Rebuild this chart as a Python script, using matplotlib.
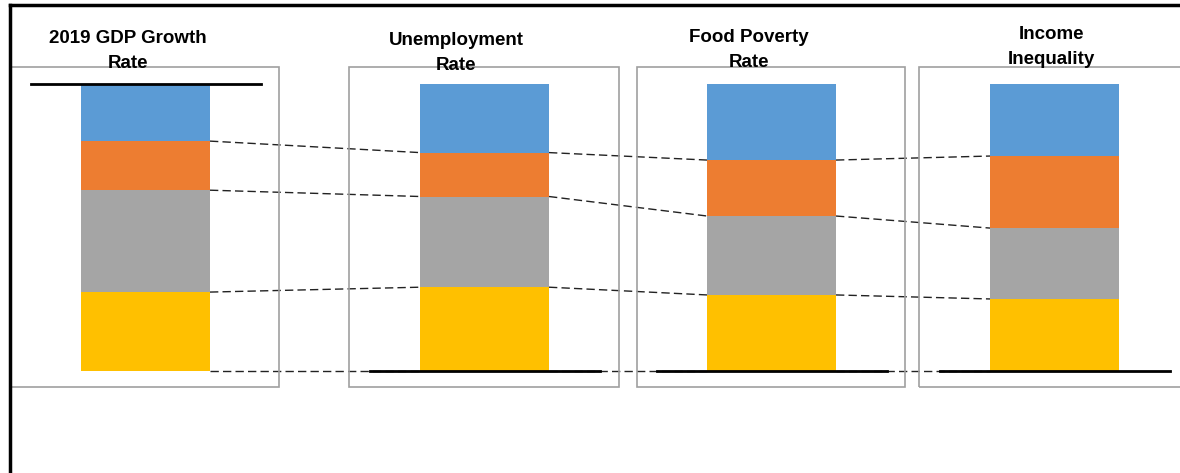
import numpy as np
import matplotlib.pyplot as plt
from matplotlib.patches import Rectangle
from matplotlib.lines import Line2D

# share of each segment (%), bottom to top
titles = ['2019 GDP Growth\nRate', 'Unemployment\nRate', 'Food Poverty\nRate', 'Income\nInequality']
yellow = [27.5, 29.2, 26.5, 25.1]
gray = [35.5, 31.6, 27.5, 24.7]
orange = [17.1, 15.3, 19.5, 25.1]
blue = [19.9, 23.9, 26.5, 25.1]

series = [yellow, gray, orange, blue]
colors = ['#FFC000', '#A5A5A5', '#ED7D31', '#5B9BD5']

W, H = 1180, 473
centers = [145.5, 484.5, 771.5, 1054.5]
bar_w = 129
title_x = [128, 456, 749, 1051]
title_y = [51, 53, 50, 47]
boxes = [(11, 279), (349, 619), (637, 905), (919, 1200)]
box_top, box_bot = 67, 387

fig = plt.figure(figsize=(W / 100, H / 100), dpi=100)
ax = fig.add_axes([0, (H - 371) / H, 1, 287 / H])
ax.set_xlim(0, W)
ax.set_ylim(0, 100)
ax.axis('off')

bottom = np.zeros(len(titles))
for vals, c in zip(series, colors):
    ax.bar(centers, vals, width=bar_w, bottom=bottom, color=c, clip_on=False, zorder=2)
    bottom += np.array(vals)

# dashed connectors between segment boundaries
cum = np.vstack([np.zeros(len(titles)), np.cumsum(series, axis=0)[:-1]])
for level in cum:
    for i in range(len(titles) - 1):
        ax.plot([centers[i] + bar_w / 2, centers[i + 1] - bar_w / 2],
                [level[i], level[i + 1]], color='#222222', lw=1,
                dashes=(6, 3), clip_on=False, zorder=1)

# black reference lines
ax.plot([centers[0] - 115, centers[0] + 115], [100, 100], color='black', lw=2, clip_on=False, zorder=3)
for c in centers[1:]:
    ax.plot([c - 115, c + 115], [0, 0], color='black', lw=2, clip_on=False, zorder=3)

# boxes around each panel
for x0, x1 in boxes:
    fig.patches.append(Rectangle((x0 / W, (H - box_bot) / H), (x1 - x0) / W, (box_bot - box_top) / H,
                                 transform=fig.transFigure, fill=False, edgecolor='#A0A0A0', lw=1.2))

# outer frame (top and left)
fig.add_artist(Line2D([10 / W, 1], [1 - 5 / H, 1 - 5 / H], color='black', lw=2.5, transform=fig.transFigure))
fig.add_artist(Line2D([10 / W, 10 / W], [0, 1 - 5 / H], color='black', lw=2.5, transform=fig.transFigure))

for t, x, y in zip(titles, title_x, title_y):
    fig.text(x / W, 1 - y / H, t, ha='center', va='center', fontsize=13.5,
             fontweight='bold', family='Liberation Sans', linespacing=1.55, zorder=5)

fig.savefig('out.png', dpi=100)
